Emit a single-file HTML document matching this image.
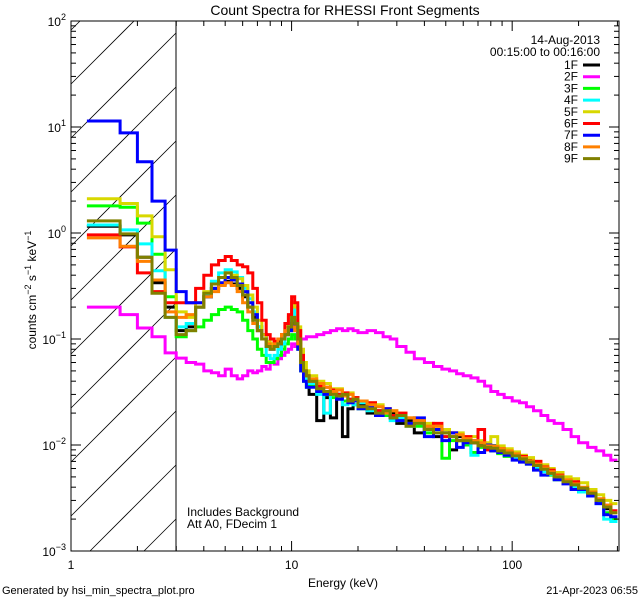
<!DOCTYPE html>
<html><head><meta charset="utf-8"><style>
html,body{margin:0;padding:0;background:#fff;width:640px;height:600px;overflow:hidden;}
svg{display:block;font-family:"Liberation Sans",sans-serif;}
</style></head><body>
<svg id="chart" width="640" height="600" xmlns="http://www.w3.org/2000/svg">
<defs><clipPath id="pc"><rect x="71" y="21" width="548" height="530"/></clipPath></defs>
<rect width="640" height="600" fill="#fff"/>
<text x="345" y="15" text-anchor="middle" font-size="14">Count Spectra for RHESSI Front Segments</text>
<g id="hatch"></g>
<line x1="176" y1="21" x2="176" y2="551" stroke="#000" stroke-width="1"/>
<g id="series" clip-path="url(#pc)"></g>
<rect x="71" y="21" width="548" height="530" fill="none" stroke="#000" stroke-width="1"/>
<g id="axes"></g>
<text x="343" y="587" text-anchor="middle" font-size="12">Energy (keV)</text>
<text transform="translate(36,290) rotate(-90)" text-anchor="middle" font-size="12">counts cm<tspan dy="-5" font-size="9">−2</tspan><tspan dy="5"> s</tspan><tspan dy="-5" font-size="9">−1</tspan><tspan dy="5"> keV</tspan><tspan dy="-5" font-size="9">−1</tspan></text>
<text x="187" y="516" font-size="12">Includes Background</text>
<text x="187" y="528" font-size="12">Att A0, FDecim 1</text>
<text x="600" y="44" text-anchor="end" font-size="12">14-Aug-2013</text>
<text x="600" y="56" text-anchor="end" font-size="12">00:15:00 to 00:16:00</text>
<g id="legend"></g>
<text x="2" y="594" font-size="11">Generated by hsi_min_spectra_plot.pro</text>
<text x="638" y="594" text-anchor="end" font-size="11">21-Apr-2023 06:55</text>
</svg>
<script>
const edges=[1.18,1.67,2,2.33,2.67,3,3.33,3.67,4,4.33,4.67,5,5.33,5.67,6,6.33,6.67,7,7.33,7.67,8,8.33,8.67,9,9.33,9.67,10,10.33,10.67,11,11.33,11.67,12,13,14,15,16,17,18,19,20,22,24,26,28,30,33,36,40,44,48,52,56,60,65,70,75,80,86,92,100,108,116,125,135,145,155,170,185,200,220,240,260,280,300];
const seriesNames=["1F","2F","3F","4F","5F","6F","7F","8F","9F"];
const seriesColors=["#000000","#ff00ff","#00ff00","#00ffff","#d8d800","#ff0000","#0000ff","#ff8000","#808000"];
const s1F=[1.16,0.96,0.59,0.34,0.2,0.12,0.13,0.2,0.25,0.3,0.33,0.35,0.33,0.3,0.25,0.2,0.16,0.13,0.11,0.09,0.085,0.09,0.095,0.1,0.11,0.12,0.15,0.14,0.1,0.065,0.045,0.04,
0.03,0.017,0.028,0.018,0.03,0.012,0.022,0.028,0.024,0.02,0.021,0.019,0.02,0.016,0.017,0.013,0.015,0.012,0.013,0.009,0.012,0.011,0.0105,0.01,0.0095,0.0098,0.009,0.0082,0.0078,0.0072,0.0072,0.0063,0.0058,0.0056,0.0048,0.0046,0.0041,0.0036,0.0035,0.0029,0.0025,0.002];
const s2F=[0.2,0.17,0.127,0.105,0.074,0.066,0.06,0.058,0.05,0.048,0.045,0.052,0.045,0.042,0.045,0.05,0.048,0.05,0.055,0.052,0.06,0.058,0.065,0.07,0.075,0.08,0.09,0.085,0.095,0.1,0.1,0.105,
0.105,0.11,0.115,0.12,0.125,0.12,0.125,0.12,0.115,0.12,0.115,0.105,0.1,0.085,0.075,0.065,0.06,0.055,0.052,0.05,0.047,0.045,0.043,0.04,0.036,0.032,0.03,0.028,0.026,0.025,0.023,0.021,0.019,0.017,0.016,0.014,0.012,0.0105,0.0095,0.0088,0.008,0.0072];
const s3F=[1.8,1.75,1.24,0.63,0.25,0.105,0.12,0.13,0.15,0.17,0.19,0.2,0.19,0.18,0.15,0.12,0.1,0.08,0.07,0.06,0.06,0.065,0.07,0.08,0.09,0.1,0.11,0.1,0.08,0.05,0.04,0.035,
0.036,0.031,0.03,0.028,0.03,0.026,0.025,0.024,0.022,0.023,0.02,0.019,0.018,0.017,0.016,0.015,0.013,0.014,0.0075,0.011,0.011,0.01,0.0085,0.0095,0.0092,0.0088,0.0083,0.0078,0.0076,0.007,0.0066,0.006,0.0057,0.0052,0.0047,0.0044,0.0039,0.0037,0.0033,0.0029,0.0023,0.002];
const s4F=[1.19,1.07,0.79,0.44,0.16,0.13,0.14,0.2,0.26,0.35,0.42,0.45,0.43,0.38,0.3,0.24,0.18,0.13,0.1,0.07,0.065,0.07,0.08,0.09,0.12,0.14,0.2,0.15,0.1,0.06,0.045,0.04,
0.038,0.03,0.02,0.03,0.028,0.024,0.027,0.024,0.025,0.021,0.02,0.02,0.017,0.018,0.015,0.016,0.014,0.013,0.012,0.012,0.011,0.0105,0.008,0.0098,0.0096,0.0092,0.0086,0.0083,0.0076,0.0074,0.0068,0.0062,0.0056,0.0053,0.005,0.0044,0.004,0.0036,0.0033,0.0028,0.002,0.0019];
const s5F=[2.1,1.9,1.45,0.92,0.45,0.18,0.16,0.22,0.28,0.33,0.38,0.42,0.4,0.37,0.32,0.26,0.2,0.15,0.11,0.095,0.09,0.095,0.1,0.11,0.13,0.16,0.22,0.2,0.13,0.08,0.06,0.05,
0.045,0.04,0.038,0.034,0.034,0.03,0.031,0.028,0.026,0.025,0.024,0.022,0.021,0.02,0.018,0.017,0.016,0.015,0.014,0.013,0.013,0.012,0.012,0.011,0.0105,0.012,0.0098,0.0092,0.0086,0.008,0.0076,0.007,0.0065,0.006,0.0055,0.005,0.0048,0.0044,0.0038,0.0034,0.003,0.0028];
const s6F=[0.96,0.74,0.42,0.28,0.22,0.22,0.22,0.3,0.4,0.5,0.55,0.6,0.55,0.5,0.48,0.42,0.3,0.22,0.15,0.11,0.1,0.095,0.1,0.11,0.14,0.17,0.25,0.22,0.12,0.07,0.05,0.045,
0.04,0.036,0.035,0.033,0.03,0.031,0.027,0.028,0.023,0.025,0.021,0.022,0.019,0.02,0.016,0.017,0.014,0.016,0.012,0.013,0.011,0.012,0.0105,0.014,0.009,0.0095,0.0092,0.0085,0.0082,0.0078,0.0068,0.007,0.0062,0.0058,0.0052,0.0046,0.0045,0.0038,0.0036,0.0031,0.0027,0.0024];
const s7F=[11.4,8.8,4.7,2.0,0.69,0.28,0.22,0.22,0.25,0.3,0.34,0.38,0.36,0.33,0.28,0.22,0.17,0.12,0.1,0.085,0.08,0.085,0.09,0.1,0.11,0.12,0.14,0.12,0.08,0.05,0.04,0.035,
0.035,0.032,0.03,0.031,0.027,0.029,0.025,0.026,0.022,0.023,0.019,0.022,0.018,0.017,0.016,0.018,0.012,0.014,0.011,0.013,0.0095,0.0105,0.011,0.0085,0.01,0.0088,0.0085,0.008,0.0072,0.0069,0.0066,0.0058,0.0052,0.0055,0.0047,0.0043,0.0038,0.0038,0.0033,0.0028,0.0022,0.0021];
const s8F=[0.9,0.75,0.54,0.36,0.18,0.16,0.17,0.2,0.25,0.28,0.32,0.34,0.32,0.28,0.22,0.18,0.14,0.12,0.1,0.09,0.085,0.09,0.1,0.11,0.12,0.13,0.13,0.12,0.09,0.06,0.05,0.045,
0.042,0.038,0.035,0.032,0.033,0.029,0.03,0.027,0.026,0.024,0.023,0.02,0.021,0.019,0.018,0.017,0.015,0.015,0.013,0.012,0.0125,0.0115,0.011,0.0105,0.0098,0.0097,0.0092,0.0088,0.0082,0.0076,0.0071,0.0066,0.0061,0.0056,0.0051,0.0047,0.0043,0.004,0.0036,0.0031,0.0027,0.0023];
const s9F=[1.3,0.98,0.59,0.27,0.16,0.11,0.12,0.2,0.27,0.33,0.38,0.42,0.38,0.32,0.26,0.2,0.15,0.12,0.1,0.085,0.08,0.085,0.09,0.1,0.11,0.13,0.16,0.14,0.1,0.06,0.05,0.045,
0.04,0.034,0.032,0.03,0.029,0.03,0.026,0.027,0.023,0.022,0.02,0.021,0.018,0.019,0.015,0.016,0.014,0.013,0.013,0.012,0.011,0.011,0.0105,0.0098,0.0095,0.0093,0.0088,0.0084,0.0079,0.0074,0.0069,0.0064,0.0059,0.0054,0.005,0.0045,0.0042,0.0039,0.0035,0.003,0.0026,0.0023];
const seriesValues=[s1F,s2F,s3F,s4F,s5F,s6F,s7F,s8F,s9F];
const xTickLabels=["1","10","100"];
const yTickExps=["2","1","0","-1","-2","-3"];

const NS="http://www.w3.org/2000/svg";
const X0=71,X1=619,Y0=21,Y1=551,XMIN=1,XMAX=305,YMIN=1e-3,YMAX=1e2;
function xs(e){return X0+(Math.log10(e)-Math.log10(XMIN))/(Math.log10(XMAX)-Math.log10(XMIN))*(X1-X0);}
function ys(v){return Y1-(Math.log10(v)-Math.log10(YMIN))/(Math.log10(YMAX)-Math.log10(YMIN))*(Y1-Y0);}
function mk(t,a,p){const e=document.createElementNS(NS,t);for(const k in a)e.setAttribute(k,a[k]);p.appendChild(e);return e;}

// hatch lines, clipped manually to the plot box (x 71..176, y 21..551)
const hg=document.getElementById('hatch');
for(let c=30;c<Y1+(176-X0);c+=54){
  const xa=Math.max(X0,X0+c-Y1), xb=Math.min(176,X0+c-Y0);
  if(xb<=xa) continue;
  const l=mk('line',{x1:xa,y1:c-(xa-X0),x2:xb,y2:c-(xb-X0),stroke:'#000','stroke-width':0.8},hg);
  
  
}

const sg=document.getElementById('series');
seriesValues.forEach((vals,i)=>{
  let d='';
  const n=Math.min(vals.length,edges.length-1);
  for(let k=0;k<n;k++){
    const xa=xs(edges[k]).toFixed(1),xb=xs(edges[k+1]).toFixed(1),y=Math.min(Y1,Math.max(Y0,ys(vals[k]))).toFixed(1);
    d+=(k===0?'M':'L')+xa+','+y+'L'+xb+','+y;
  }
  const p=mk('path',{d:d,fill:'none',stroke:seriesColors[i],'stroke-width':3,'stroke-linejoin':'miter'},sg);
  
  
});

const ag=document.getElementById('axes');
for(let dec=0;dec<3;dec++){
  for(let m=1;m<10;m++){
    const e=m*Math.pow(10,dec); if(e>XMAX)break;
    const x=xs(e),len=m===1?10:5;
    mk('line',{x1:x,y1:Y1,x2:x,y2:Y1-len,stroke:'#000'},ag);
    mk('line',{x1:x,y1:Y0,x2:x,y2:Y0+len,stroke:'#000'},ag);
  }
}
xTickLabels.forEach(s=>{
  const t=mk('text',{x:xs(parseFloat(s)),y:569,'text-anchor':'middle','font-size':12},ag);
  t.textContent=s;
  
  
});
for(let ex=-3;ex<=2;ex++){
  for(let m=1;m<10;m++){
    const v=m*Math.pow(10,ex); if(v>YMAX)break;
    const y=ys(v),len=m===1?10:5;
    mk('line',{x1:X0,y1:y,x2:X0+len,y2:y,stroke:'#000'},ag);
    mk('line',{x1:X1,y1:y,x2:X1-len,y2:y,stroke:'#000'},ag);
  }
}
yTickExps.forEach(s=>{
  const y=ys(Math.pow(10,parseFloat(s)));
  const t=mk('text',{x:66,y:y+5,'text-anchor':'end','font-size':12},ag);
  t.innerHTML='10<tspan dy="-6" font-size="9">'+s.replace('-','−')+'</tspan>';
  
  
});

const lg=document.getElementById('legend');
seriesNames.forEach((nm,i)=>{
  const y=65+i*11.7;
  const t=mk('text',{x:578,y:y+4,'text-anchor':'end','font-size':12},lg);
  t.textContent=nm;
  
  
  const l=mk('line',{x1:583,y1:y,x2:600,y2:y,stroke:seriesColors[i],'stroke-width':3},lg);
  
  
});
</script>
</body></html>
